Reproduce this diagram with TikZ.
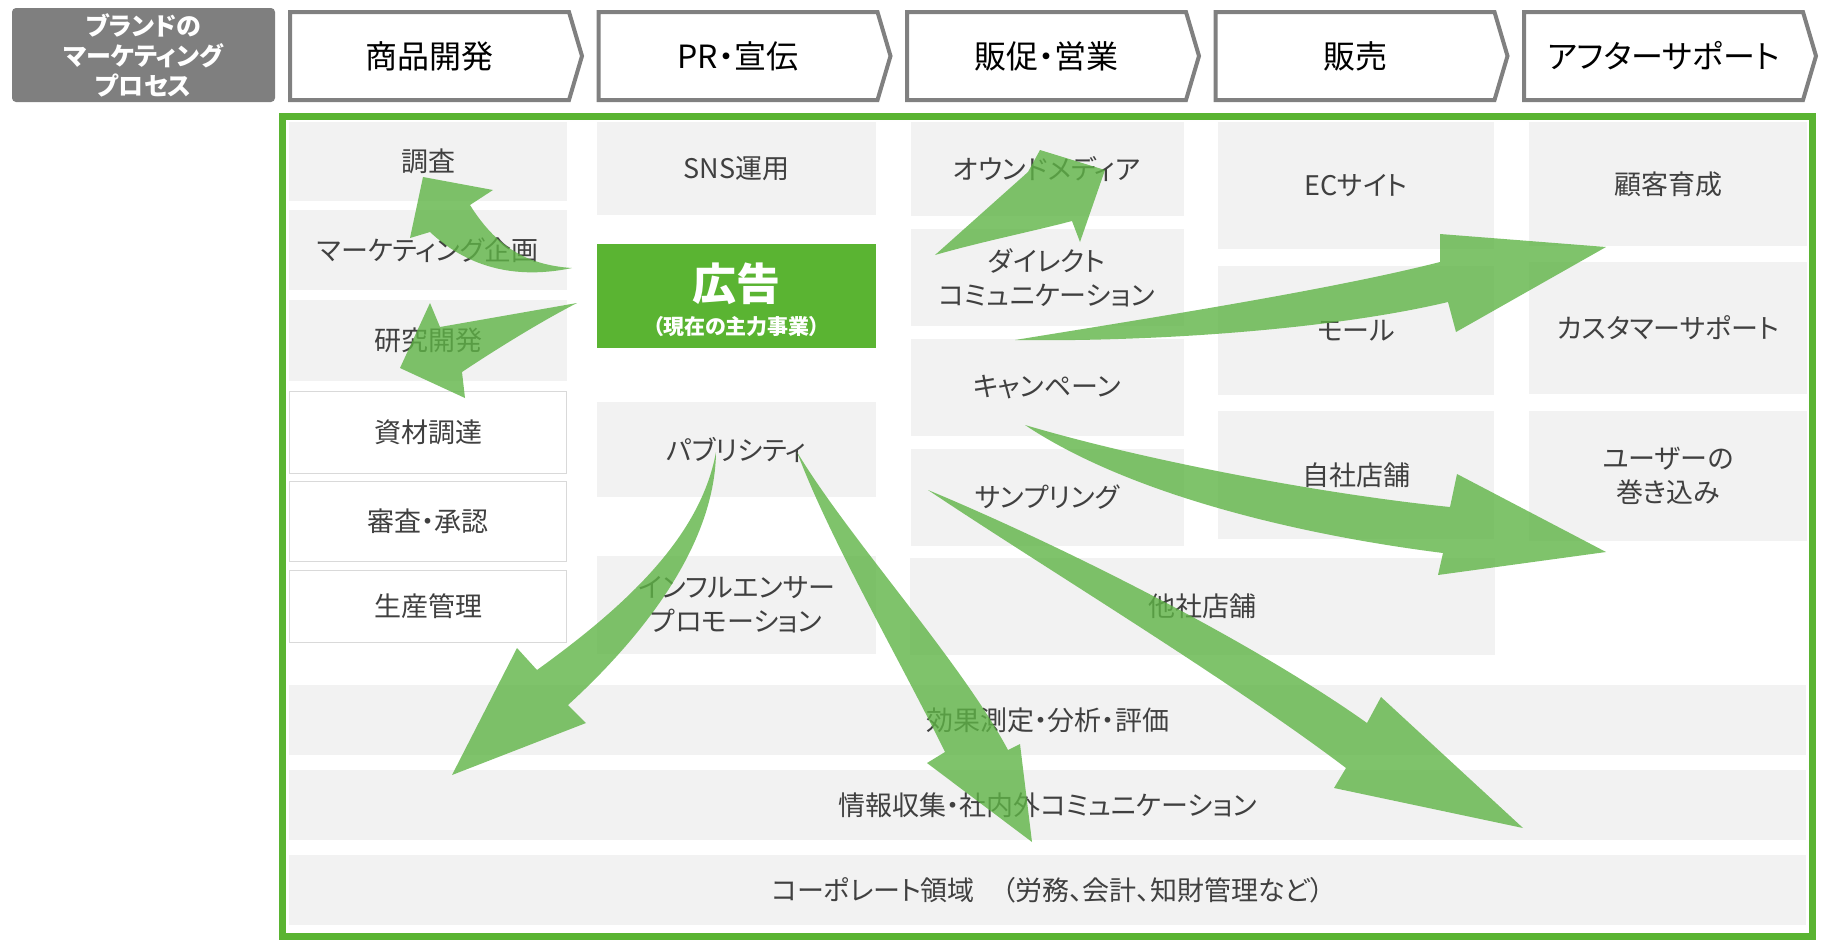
\documentclass[tikz,border=0pt]{standalone}
\usepackage{fontspec}
\setmainfont{Noto Sans CJK JP}[RawFeature=+palt]
\definecolor{boxgray}{HTML}{7F7F7F}
\definecolor{chevgray}{HTML}{808080}
\definecolor{cellgray}{HTML}{F2F2F2}
\definecolor{cellline}{HTML}{D9D9D9}
\definecolor{textgray}{HTML}{404040}
\definecolor{brandgreen}{HTML}{5AB432}
\definecolor{arrowgreen}{HTML}{5FB446}

\begin{document}
\begin{tikzpicture}[x=1pt,y=-1pt]
                \tikzset{phasebox/.style={draw=chevgray, line width=4pt, fill=white},
                phaselabel/.style={inner sep=0pt, font=\fontsize{32}{32}\selectfont},
                cell/.style={fill=cellgray, text=textgray, inner sep=0pt, align=center, font=\fontsize{27}{34}\selectfont},
                whitecell/.style={cell, fill=white, draw=cellline, line width=1.5pt},
                flow/.style={fill=arrowgreen, fill opacity=0.8}}

                \useasboundingbox (0,0) rectangle (1821,940);

                \node[fill=boxgray, rounded corners=4pt, minimum width=263pt, minimum height=94pt, inner sep=0pt,
                  text=white, align=center, font=\fontsize{25}{30}\selectfont\bfseries] (brand) at (143.5,55) {ブランドの\\マーケティング\\プロセス};
                \foreach \lbl [count=\i from 0] in {商品開発, PR・宣伝, 販促・営業, 販売, アフターサポート} {
                  \draw[phasebox] ({290+308.5*\i},12) -- ++(279,0) -- ++(13,44) -- ++(-13,44) -- ++(-279,0) -- cycle;
                  \node[phaselabel] (phase\i) at ({429.5+308.5*\i},56) {\lbl};
                }

                \draw[brandgreen, line width=7pt] (282,116) rectangle (1812,936.5);

                \node[cell, minimum width=278pt, minimum height=79pt] (chosa) at (428,161.5) {調査};
                \node[cell, minimum width=278pt, minimum height=80pt] (kikaku) at (428,250) {マーケティング企画};
                \node[cell, minimum width=278pt, minimum height=81pt] (kenkyu) at (428,340.5) {研究開発};
                \node[whitecell, minimum width=277pt, minimum height=82pt] (shizai) at (428,432.5) {資材調達};
                \node[whitecell, minimum width=277pt, minimum height=80pt] (shinsa) at (428,521.5) {審査・承認};
                \node[whitecell, minimum width=277pt, minimum height=72pt] (seisan) at (428,606.5) {生産管理};

                \node[cell, minimum width=279pt, minimum height=93pt] (sns) at (736.5,168.5) {SNS運用};
                \node[fill=brandgreen, minimum width=279pt, minimum height=104pt] (kokoku) at (736.5,296) {};
                \node[inner sep=0pt, text=white, font=\fontsize{44}{44}\selectfont\bfseries] (kokokutitle) at (736.5,284) {広告};
                \node[inner sep=0pt, text=white, font=\fontsize{21}{21}\selectfont\bfseries] (kokokusub) at (736.5,327) {（現在の主力事業）};
                \node[cell, minimum width=279pt, minimum height=95pt] (publicity) at (736.5,449.5) {パブリシティ};
                \node[cell, minimum width=279pt, minimum height=98pt] (influencer) at (736.5,605) {インフルエンサー\\プロモーション};

                \node[cell, minimum width=273pt, minimum height=94pt] (owned) at (1047,169) {オウンドメディア};
                \node[cell, minimum width=273pt, minimum height=97pt] (direct) at (1047,277.5) {ダイレクト\\コミュニケーション};
                \node[cell, minimum width=273pt, minimum height=97pt] (campaign) at (1047,387.5) {キャンペーン};
                \node[cell, minimum width=273pt, minimum height=97pt] (sampling) at (1047,497.5) {サンプリング};
                \node[cell, minimum width=585pt, minimum height=97pt] (tasha) at (1202.5,606.5) {他社店舗};

                \node[cell, minimum width=276pt, minimum height=127pt] (ecsite) at (1356,185.5) {ECサイト};
                \node[cell, minimum width=276pt, minimum height=129pt] (mall) at (1356,330.5) {モール};
                \node[cell, minimum width=276pt, minimum height=128pt] (jisha) at (1356,475) {自社店舗};

                \node[cell, minimum width=278pt, minimum height=124pt] (ikusei) at (1668,184) {顧客育成};
                \node[cell, minimum width=278pt, minimum height=132pt] (support) at (1668,328) {カスタマーサポート};
                \node[cell, minimum width=278pt, minimum height=130pt] (makikomi) at (1668,476) {ユーザーの\\巻き込み};

                \node[cell, minimum width=1517pt, minimum height=70pt] (kouka) at (1047.5,720) {効果測定・分析・評価};
                \node[cell, minimum width=1517pt, minimum height=70pt] (joho) at (1047.5,805) {情報収集・社内外コミュニケーション};
                \node[cell, minimum width=1517pt, minimum height=70pt] (corporate) at (1047.5,890) {コーポレート領域　（労務、会計、知財管理など）};

                \fill[flow] (423,177) -- (493,190) -- (470,205) .. controls (495,245) and (525,265) .. (572,268)
                  .. controls (505,282) and (460,260) .. (430,232) -- (410,238) -- cycle;
                \fill[flow] (577,303) -- (440,327) -- (430,303) -- (400,368) -- (465,398) -- (462,372)
                  .. controls (495,350) and (540,322) .. (577,303) -- cycle;
                \fill[flow] (935,255) -- (1028,172) -- (1040,150) -- (1105,170) -- (1080,242) -- (1072,221)
                  .. controls (1030,232) and (980,242) .. (935,255) -- cycle;
                \fill[flow] (1015,340) .. controls (1150,318) and (1330,290) .. (1440,262) -- (1440,234) -- (1606,247)
                  -- (1456,332) -- (1448,302) .. controls (1330,330) and (1150,342) .. (1015,340) -- cycle;
                \fill[flow] (1025,425) .. controls (1150,462) and (1330,495) .. (1450,507) -- (1457,474) -- (1606,552)
                  -- (1438,575) -- (1443,553) .. controls (1300,535) and (1130,495) .. (1025,425) -- cycle;
                \fill[flow] (928,490) .. controls (1060,545) and (1250,640) .. (1367,723) -- (1381,697) -- (1523,828)
                  -- (1334,788) -- (1346,768) .. controls (1230,680) and (1040,565) .. (928,490) -- cycle;
                \fill[flow] (716,452) .. controls (700,540) and (620,610) .. (537,670) -- (517,648) -- (452,775)
                  -- (586,723) -- (568,705) .. controls (650,630) and (715,540) .. (716,452) -- cycle;
                \fill[flow] (797,452) .. controls (850,540) and (960,660) .. (1008,750) -- (1020,744) -- (1032,842)
                  -- (927,763) -- (945,752) .. controls (900,660) and (830,540) .. (797,452) -- cycle;
            \end{tikzpicture}
\end{document}
